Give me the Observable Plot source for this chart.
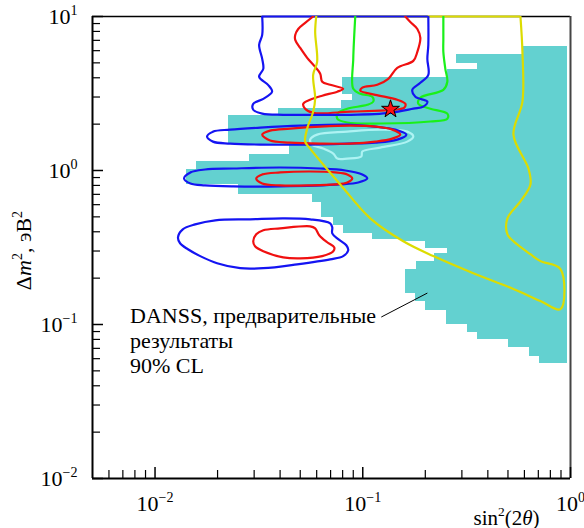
<!DOCTYPE html>
<html><head><meta charset="utf-8">
<script src="https://cdn.jsdelivr.net/npm/d3@7"></script>
<script src="https://cdn.jsdelivr.net/npm/@observablehq/plot@0.6"></script>
<style>body{margin:0;background:#fff}</style>
</head><body><div id="chart"></div>
<script>
// ---- data ----
// excluded region (cyan): horizontal bands, Δm² edges (top→bottom) and left sin²2θ edge
const cyanEdges = [6.35, 5.63, 4.93, 4.51, 4.00, 3.10, 2.84, 2.52, 2.27, 1.47, 1.27, 1.14, 1.015, 0.812, 0.699, 0.621, 0.496, 0.441, 0.391, 0.358, 0.347, 0.313, 0.290, 0.258, 0.229, 0.160, 0.140, 0.124, 0.0993, 0.0881, 0.0794, 0.0705, 0.0616, 0.0555];
const cyanLeft = [0.593, 0.282, 0.356, 0.255, 0.0796, 0.0890, 0.0788, 0.0392, 0.0227, 0.0442, 0.0284, 0.0159, 0.0141, 0.0251, 0.0571, 0.0631, 0.0721, 0.0805, 0.112, 0.155, 0.200, 0.255, 0.221, 0.181, 0.160, 0.179, 0.200, 0.253, 0.319, 0.356, 0.503, 0.634, 0.709];
const cyanRight = 0.967;

const blueTop = [[0.0328,10],[0.0328,7.59],[0.0317,6.54],[0.0328,5.31],[0.0332,4.57],[0.0317,4.06],[0.0350,3.60],[0.0366,3.25],[0.0332,2.92],[0.0297,2.71],[0.0297,2.48],[0.0328,2.34],[0.0414,2.30],[0.0603,2.30],[0.0871,2.30],[0.1357,2.37],[0.1751,2.52],[0.1957,2.60],[0.2046,2.80],[0.1791,3.01],[0.1732,3.34],[0.1893,3.71],[0.2068,4.18],[0.2046,5.31],[0.2068,6.54],[0.2068,10]];
const blueE1 = [[0.0178,1.660],[0.0190,1.788],[0.0230,1.842],[0.0321,1.898],[0.0500,1.955],[0.0842,1.985],[0.1149,1.927],[0.1434,1.842],[0.1621,1.710],[0.1466,1.587],[0.1149,1.518],[0.0842,1.496],[0.0500,1.473],[0.0321,1.473],[0.0230,1.496],[0.0190,1.540]];
const blueE2 = [[0.0138,0.888],[0.0148,0.971],[0.0174,1.015],[0.0238,1.030],[0.0400,1.046],[0.0624,1.030],[0.0824,1.000],[0.0995,0.942],[0.1051,0.888],[0.0951,0.836],[0.0779,0.812],[0.0400,0.788],[0.0238,0.788],[0.0174,0.800],[0.0148,0.824]];
const blueLow = [[0.0129,0.368],[0.0136,0.415],[0.0156,0.447],[0.0195,0.475],[0.0287,0.482],[0.0414,0.489],[0.0558,0.482],[0.0697,0.454],[0.0713,0.428],[0.0713,0.391],[0.0762,0.358],[0.0833,0.327],[0.0851,0.303],[0.0805,0.278],[0.0697,0.265],[0.0483,0.246],[0.0332,0.232],[0.0257,0.232],[0.0199,0.250],[0.0165,0.278],[0.0144,0.308],[0.0132,0.337]];

const redTop = [[0.0577,10],[0.0528,9.08],[0.0489,8.30],[0.0473,7.59],[0.0473,7.05],[0.0500,6.25],[0.0540,5.39],[0.0584,4.78],[0.0624,4.25],[0.0638,3.77],[0.0697,3.60],[0.0805,3.39],[0.0754,3.25],[0.0638,3.06],[0.0558,2.88],[0.0517,2.71],[0.0528,2.52],[0.0577,2.37],[0.0871,2.41],[0.1214,2.45],[0.1434,2.48],[0.1585,2.56],[0.1603,2.71],[0.1466,2.88],[0.1149,3.10],[0.0973,3.30],[0.0995,3.45],[0.1174,3.60],[0.1327,3.94],[0.1466,4.64],[0.1751,5.15],[0.1831,5.89],[0.1893,7.26],[0.1831,8.30],[0.1694,9.21],[0.1603,10]];
const redE1 = [[0.0328,1.710],[0.0358,1.815],[0.0447,1.870],[0.0624,1.927],[0.0871,1.955],[0.1149,1.927],[0.1387,1.842],[0.1516,1.710],[0.1387,1.611],[0.1149,1.540],[0.0871,1.496],[0.0624,1.496],[0.0447,1.518],[0.0358,1.564]];
const redE2 = [[0.0307,0.888],[0.0328,0.942],[0.0400,0.971],[0.0558,0.985],[0.0737,0.971],[0.0842,0.942],[0.0890,0.888],[0.0842,0.836],[0.0737,0.812],[0.0558,0.800],[0.0400,0.800],[0.0328,0.824]];
const redLow = [[0.0297,0.347],[0.0307,0.385],[0.0332,0.409],[0.0400,0.421],[0.0558,0.434],[0.0590,0.421],[0.0617,0.380],[0.0674,0.342],[0.0729,0.317],[0.0721,0.299],[0.0638,0.278],[0.0500,0.269],[0.0414,0.273],[0.0332,0.299],[0.0303,0.322]];

const green = [[0.0920,10],[0.0910,7.59],[0.0900,5.31],[0.0900,3.39],[0.0973,3.15],[0.1111,3.01],[0.1123,2.80],[0.1051,2.67],[0.0842,2.52],[0.0762,2.37],[0.0754,2.17],[0.0842,2.05],[0.1214,2.02],[0.2115,2.08],[0.2553,2.17],[0.2553,2.34],[0.2115,2.52],[0.1851,2.71],[0.1893,2.97],[0.2443,3.34],[0.2553,3.77],[0.2497,4.57],[0.2443,5.89],[0.2443,7.15],[0.2443,10]];
const lightCyan = [[0.0558,1.587],[0.0603,1.710],[0.0842,1.788],[0.1214,1.842],[0.1638,1.788],[0.1751,1.660],[0.1638,1.540],[0.1214,1.409],[0.0995,1.327],[0.0984,1.232],[0.0842,1.196],[0.0754,1.196],[0.0721,1.288],[0.0645,1.388],[0.0571,1.473]];
const yellow = [[0.0597,10],[0.0590,7.93],[0.0603,5.08],[0.0577,4.18],[0.0590,2.92],[0.0577,2.41],[0.0540,1.870],[0.0528,1.540],[0.0558,1.388],[0.0645,1.094],[0.0779,0.812],[0.1087,0.489],[0.1567,0.347],[0.2186,0.278],[0.3407,0.215],[0.5313,0.170],[0.7168,0.142],[0.8951,0.126],[0.8951,0.229],[0.7168,0.258],[0.6414,0.286],[0.5313,0.347],[0.4970,0.385],[0.4970,0.489],[0.5741,0.630],[0.6414,0.812],[0.6273,1.030],[0.5313,1.710],[0.5870,2.80],[0.5870,5.89],[0.5741,10]];

const bestFit = [[0.136, 2.5]];
const annotation = "DANSS, предварительные\nрезультаты\n90% CL";
const annotationPos = [[0.00758, 0.134]];
const pointer = [{x1: 0.1228, y1: 0.1118, x2: 0.2046, y2: 0.160}];

const yMajor = [0.01, 0.1, 1, 10];
const yTickLabels = ["10^{−2}", "10^{−1}", "10^{0}", "10^{1}"];
const yMinor = [0.02,0.03,0.04,0.05,0.06,0.07,0.08,0.09,0.2,0.3,0.4,0.5,0.6,0.7,0.8,0.9,2,3,4,5,6,7,8,9];
const xMajor = [0.01, 0.1, 1];
const xTickLabels = ["10^{−2}", "10^{−1}", "10^{0}"];
const xMinor = [0.006,0.007,0.008,0.009,0.02,0.03,0.04,0.05,0.06,0.07,0.08,0.09,0.2,0.3,0.4,0.5,0.6,0.7,0.8,0.9];
const xTitle = "sin^{2}(2~{θ})";
const yTitle = "Δ~{m}^{2}, эВ^{2}";

// ---- styles ----
const W = 584, H = 528, ML = 92, MR = 14, MT = 16, MB = 50;
const FW = W - ML - MR, FH = H - MT - MB;
const C = {cyan: "#63d1d0", blue: "#1414f2", red: "#f01010", green: "#1af01a", yellow: "#dcdc00", lcyan: "#aef3f3"};
const LW = 2.2;
const font = "'Liberation Serif', 'Times New Roman', serif";

const cyanRows = cyanLeft.map((x, i) => ({x1: x, x2: cyanRight, y1: cyanEdges[i + 1], y2: cyanEdges[i]}));
const P = (data, stroke, curve) => Plot.line(data, {x: d => d[0], y: d => d[1], stroke, strokeWidth: LW, curve, clip: true});
const first = a => a[0][0], last = a => a[a.length - 1][0];

const chart = Plot.plot({
  width: W, height: H, marginLeft: ML, marginRight: MR, marginTop: MT, marginBottom: MB,
  x: {type: "log", domain: [0.005, 1], axis: null},
  y: {type: "log", domain: [0.01, 10], axis: null},
  style: {fontFamily: font, background: "white", color: "black"},
  marks: [
    Plot.rect(cyanRows, {x1: "x1", x2: "x2", y1: "y1", y2: "y2", fill: C.cyan, shapeRendering: "crispEdges"}),
    // frame
    Plot.ruleY([10], {stroke: "black", strokeWidth: 1.5}),
    Plot.ruleX([1], {stroke: "#444", strokeWidth: 2}),
    Plot.ruleX([0.005], {stroke: "black", strokeWidth: 2}),
    Plot.ruleY([0.01], {stroke: "black", strokeWidth: 2}),
    // ticks (inward)
    Plot.tickY(yMajor, {y: d => d, insetRight: FW - 11, stroke: "black", strokeWidth: 1.5}),
    Plot.tickY(yMinor, {y: d => d, insetRight: FW - 8, stroke: "black", strokeWidth: 1.2}),
    Plot.tickX(xMajor, {x: d => d, insetTop: FH - 11, stroke: "black", strokeWidth: 1.5}),
    Plot.tickX(xMinor, {x: d => d, insetTop: FH - 8, stroke: "black", strokeWidth: 1.2}),
    // contour edges running along the top of the frame
    Plot.ruleY([10], {x1: first(yellow), x2: last(yellow), stroke: C.yellow, strokeWidth: LW}),
    Plot.ruleY([10], {x1: first(blueTop), x2: last(blueTop), stroke: C.blue, strokeWidth: LW}),
    // contours
    P(lightCyan, C.lcyan, "catmull-rom-closed"),
    P(green, C.green, "catmull-rom"),
    P(redTop, C.red, "catmull-rom"),
    P(blueTop, C.blue, "catmull-rom"),
    P(blueE1, C.blue, "catmull-rom-closed"),
    P(blueE2, C.blue, "catmull-rom-closed"),
    P(blueLow, C.blue, "catmull-rom-closed"),
    P(redE1, C.red, "catmull-rom-closed"),
    P(redE2, C.red, "catmull-rom-closed"),
    P(redLow, C.red, "catmull-rom-closed"),
    P(yellow, C.yellow, "catmull-rom"),
    Plot.dot(bestFit, {x: d => d[0], y: d => d[1], symbol: "star", r: 5.6, fill: "#ff1010", stroke: "black", strokeWidth: 1}),
    // annotation
    Plot.link(pointer, {x1: "x1", y1: "y1", x2: "x2", y2: "y2", stroke: "black", strokeWidth: 1}),
    Plot.text(annotationPos, {x: d => d[0], y: d => d[1], text: () => annotation, textAnchor: "start", lineAnchor: "top", lineHeight: 1.136, fontSize: 22, fontFamily: font, fill: "black"}),
    // tick labels
    Plot.text(yMajor, {y: d => d, text: (d, i) => yTickLabels[i], frameAnchor: "left", textAnchor: "end", dx: -15, fontSize: 22, fontFamily: font, fill: "black"}),
    Plot.text(xMajor, {x: d => d, text: (d, i) => xTickLabels[i], frameAnchor: "bottom", lineAnchor: "bottom", textAnchor: "middle", dy: 32, fontSize: 22, fontFamily: font, fill: "black"}),
    // axis titles
    Plot.text([xTitle], {text: d => d, frameAnchor: "bottom", lineAnchor: "bottom", textAnchor: "middle", dx: 175, dy: 46, fontSize: 21, fontFamily: font, fill: "black"}),
    Plot.text([yTitle], {text: d => d, frameAnchor: "left", lineAnchor: "bottom", textAnchor: "middle", rotate: -90, dx: -62, dy: 3, fontSize: 22, fontFamily: font, fill: "black"})
  ]
});

document.getElementById("chart").appendChild(chart);

// turn ^{..} (superscript) and ~{..} (italic) markup into tspans
const NS = "http://www.w3.org/2000/svg";
chart.querySelectorAll("text").forEach(t => {
  if (t.querySelector("tspan")) return;
  const s = t.textContent;
  if (!/[\^~]\{/.test(s)) return;
  const fs = parseFloat(getComputedStyle(t).fontSize) || 20;
  const supSize = fs * 0.64, shift = fs * 0.4;
  t.textContent = "";
  const re = /([\^~])\{([^}]*)\}|([^\^~]+)/g;
  let m, raised = false;
  while ((m = re.exec(s))) {
    const sp = document.createElementNS(NS, "tspan");
    if (m[1] === "^") {
      sp.textContent = m[2];
      sp.setAttribute("font-size", supSize);
      if (!raised) { sp.setAttribute("dy", -shift); raised = true; }
    } else {
      sp.textContent = m[1] === "~" ? m[2] : m[3];
      if (m[1] === "~") sp.setAttribute("font-style", "italic");
      if (raised) { sp.setAttribute("dy", shift); raised = false; }
    }
    t.appendChild(sp);
  }
});
</script></body></html>
